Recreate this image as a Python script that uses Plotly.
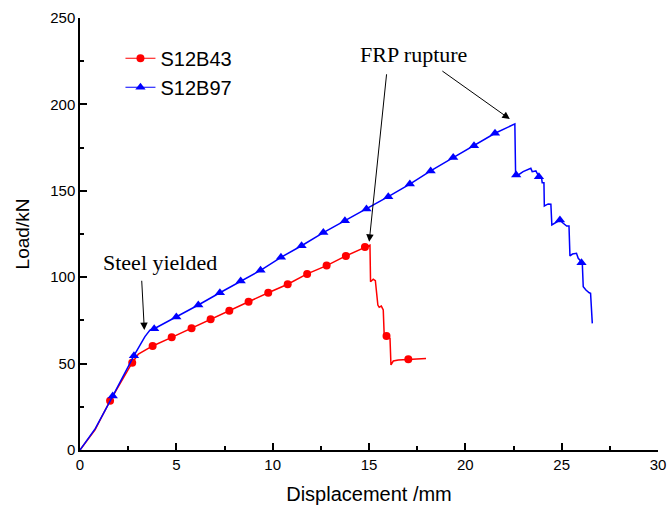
import plotly.graph_objects as go

# ---------------- data ----------------
# S12B43 (red) full load-displacement curve
red_x = [0, 0.78, 1.56, 2.71, 3.03, 3.77, 4.76, 5.79, 6.78, 7.75, 8.75, 9.77, 10.78,
         11.79, 12.80, 13.80, 14.79, 15.05, 15.08, 15.22, 15.33, 15.46, 15.53, 15.64,
         15.74, 15.79, 15.91, 16.09, 16.14, 16.26, 16.52, 17.04, 17.96]
red_y = [0, 11.6, 28.5, 50.5, 55.5, 60.2, 65.2, 70.4, 75.6, 80.6, 85.8, 91.0, 95.9,
         101.9, 106.7, 112.3, 117.5, 118.6, 97.4, 98.8, 98.0, 83.9, 82.6, 83.3,
         81.0, 66.0, 66.0, 64.6, 49.2, 51.5, 52.1, 52.5, 53.0]
# symbol positions on S12B43
red_mx = [1.56, 2.71, 3.77, 4.76, 5.79, 6.78, 7.75, 8.75, 9.77, 10.78, 11.79, 12.80,
          13.80, 14.79, 15.91, 17.04]
red_my = [28.5, 50.5, 60.2, 65.2, 70.4, 75.6, 80.6, 85.8, 91.0, 95.9, 101.9, 106.7,
          112.3, 117.5, 66.0, 52.5]

# S12B97 (blue) full load-displacement curve
blue_x = [0, 0.80, 1.70, 2.80, 3.37, 3.63, 3.85, 5.00, 6.14, 7.26, 8.34, 9.37, 10.43,
          11.50, 12.63, 13.75, 14.87, 16.00, 17.12, 18.20, 19.37, 20.45, 21.54, 22.57,
          22.61, 22.67, 23.00, 23.40, 23.47, 23.66, 23.73, 23.82, 23.96, 23.99, 24.08,
          24.10, 24.30, 24.44, 24.49, 24.70, 24.91, 25.05, 25.26, 25.38, 25.43, 25.56,
          25.77, 25.86, 26.03, 26.07, 26.12, 26.26, 26.43, 26.50, 26.59]
blue_y = [0, 12.5, 31.2, 54.6, 65.6, 69.4, 70.2, 77.0, 83.9, 91.0, 97.8, 104.0, 111.5,
          118.2, 125.8, 132.7, 139.5, 146.6, 153.9, 161.5, 169.2, 176.1, 183.3, 188.7,
          158.6, 158.6, 161.1, 163.0, 161.1, 161.5, 159.7, 158.2, 157.2, 154.7, 154.7,
          141.2, 142.4, 142.2, 130.2, 131.5, 133.1, 131.5, 129.6, 129.6, 112.3, 113.4,
          113.8, 110.9, 108.4, 108.4, 94.5, 92.6, 91.0, 90.7, 73.3]
# symbol positions on S12B97
blue_mx = [1.70, 2.80, 3.85, 5.00, 6.14, 7.26, 8.34, 9.37, 10.43, 11.50, 12.63, 13.75,
           14.87, 16.00, 17.12, 18.20, 19.37, 20.45, 21.54, 22.64, 23.82, 24.91, 26.03]
blue_my = [31.2, 54.6, 70.2, 77.0, 83.9, 91.0, 97.8, 104.0, 111.5, 118.2, 125.8, 132.7,
           139.5, 146.6, 153.9, 161.5, 169.2, 176.1, 183.3, 159.1, 158.2, 133.1, 108.4]

series_names = ["S12B43", "S12B97"]

# annotation texts
note_frp = "FRP rupture"
note_steel = "Steel yielded"

# ---------------- figure ----------------
RED = "#ff0000"
BLUE = "#0000ff"

fig = go.Figure()
fig.add_trace(go.Scatter(x=red_x, y=red_y, mode="lines", line=dict(color=RED, width=1.5),
                         showlegend=False, hoverinfo="skip"))
fig.add_trace(go.Scatter(x=red_mx, y=red_my, mode="markers",
                         marker=dict(color=RED, size=8, symbol="circle"), showlegend=False))
fig.add_trace(go.Scatter(x=blue_x, y=blue_y, mode="lines", line=dict(color=BLUE, width=1.5),
                         showlegend=False, hoverinfo="skip"))
fig.add_trace(go.Scatter(x=blue_mx, y=blue_my, mode="markers",
                         marker=dict(color=BLUE, size=9, symbol="triangle-up"), showlegend=False))
# legend entries
fig.add_trace(go.Scatter(x=[None], y=[None], mode="lines+markers", name=series_names[0],
                         line=dict(color=RED, width=1.2),
                         marker=dict(color=RED, size=8, symbol="circle")))
fig.add_trace(go.Scatter(x=[None], y=[None], mode="lines+markers", name=series_names[1],
                         line=dict(color=BLUE, width=1.2),
                         marker=dict(color=BLUE, size=9, symbol="triangle-up")))

serif = "Liberation Serif, Times New Roman, serif"
arrow_common = dict(showarrow=True, arrowhead=2, arrowsize=1.5, arrowwidth=1,
                    arrowcolor="black", axref="x", ayref="y", text="", standoff=0,
                    startstandoff=0)
annotations = [
    dict(x=15.01, y=120.5, ax=15.92, ay=218.3, **arrow_common),
    dict(x=22.31, y=191.5, ax=18.73, ay=219.9, **arrow_common),
    dict(x=3.34, y=69.4, ax=3.20, ay=98.8, **arrow_common),
    dict(x=17.3, y=229.0, text=note_frp, showarrow=False,
         font=dict(family=serif, size=22, color="black"), xanchor="center", yanchor="middle"),
    dict(x=4.15, y=108.5, text=note_steel, showarrow=False,
         font=dict(family=serif, size=22, color="black"), xanchor="center", yanchor="middle"),
]

axis_common = dict(showline=True, linecolor="black", linewidth=1.5, mirror=False,
                   ticks="inside", tickcolor="black", tickwidth=1.5, ticklen=7,
                   showgrid=False, zeroline=False, automargin=False,
                   tickfont=dict(family="Arial, Liberation Sans, sans-serif", size=15, color="black"),
                   minor=dict(ticks="inside", ticklen=4, tickwidth=1.5, tickcolor="black",
                              showgrid=False))

fig.update_layout(
    width=670, height=510,
    margin=dict(l=80, r=12, t=18, b=60),
    plot_bgcolor="white", paper_bgcolor="white",
    font=dict(family="Arial, Liberation Sans, sans-serif", color="black"),
    xaxis=dict(range=[0, 30], tickmode="array", tickvals=[0, 5, 10, 15, 20, 25, 30],
               title=dict(text="Displacement /mm", font=dict(size=20), standoff=15),
               **axis_common),
    yaxis=dict(range=[0, 250], tickmode="array", tickvals=[0, 50, 100, 150, 200, 250],
               title=dict(text="Load/kN", font=dict(size=19), standoff=16),
               **axis_common),
    legend=dict(x=0.07, y=0.952, xanchor="left", yanchor="top", bgcolor="rgba(0,0,0,0)",
                font=dict(family="Arial, Liberation Sans, sans-serif", size=20, color="black"),
                tracegroupgap=0),
    annotations=annotations,
)
fig.update_xaxes(minor_dtick=2.5, minor_tick0=0)
fig.update_yaxes(minor_dtick=25, minor_tick0=0)

fig.write_html("out.html")
